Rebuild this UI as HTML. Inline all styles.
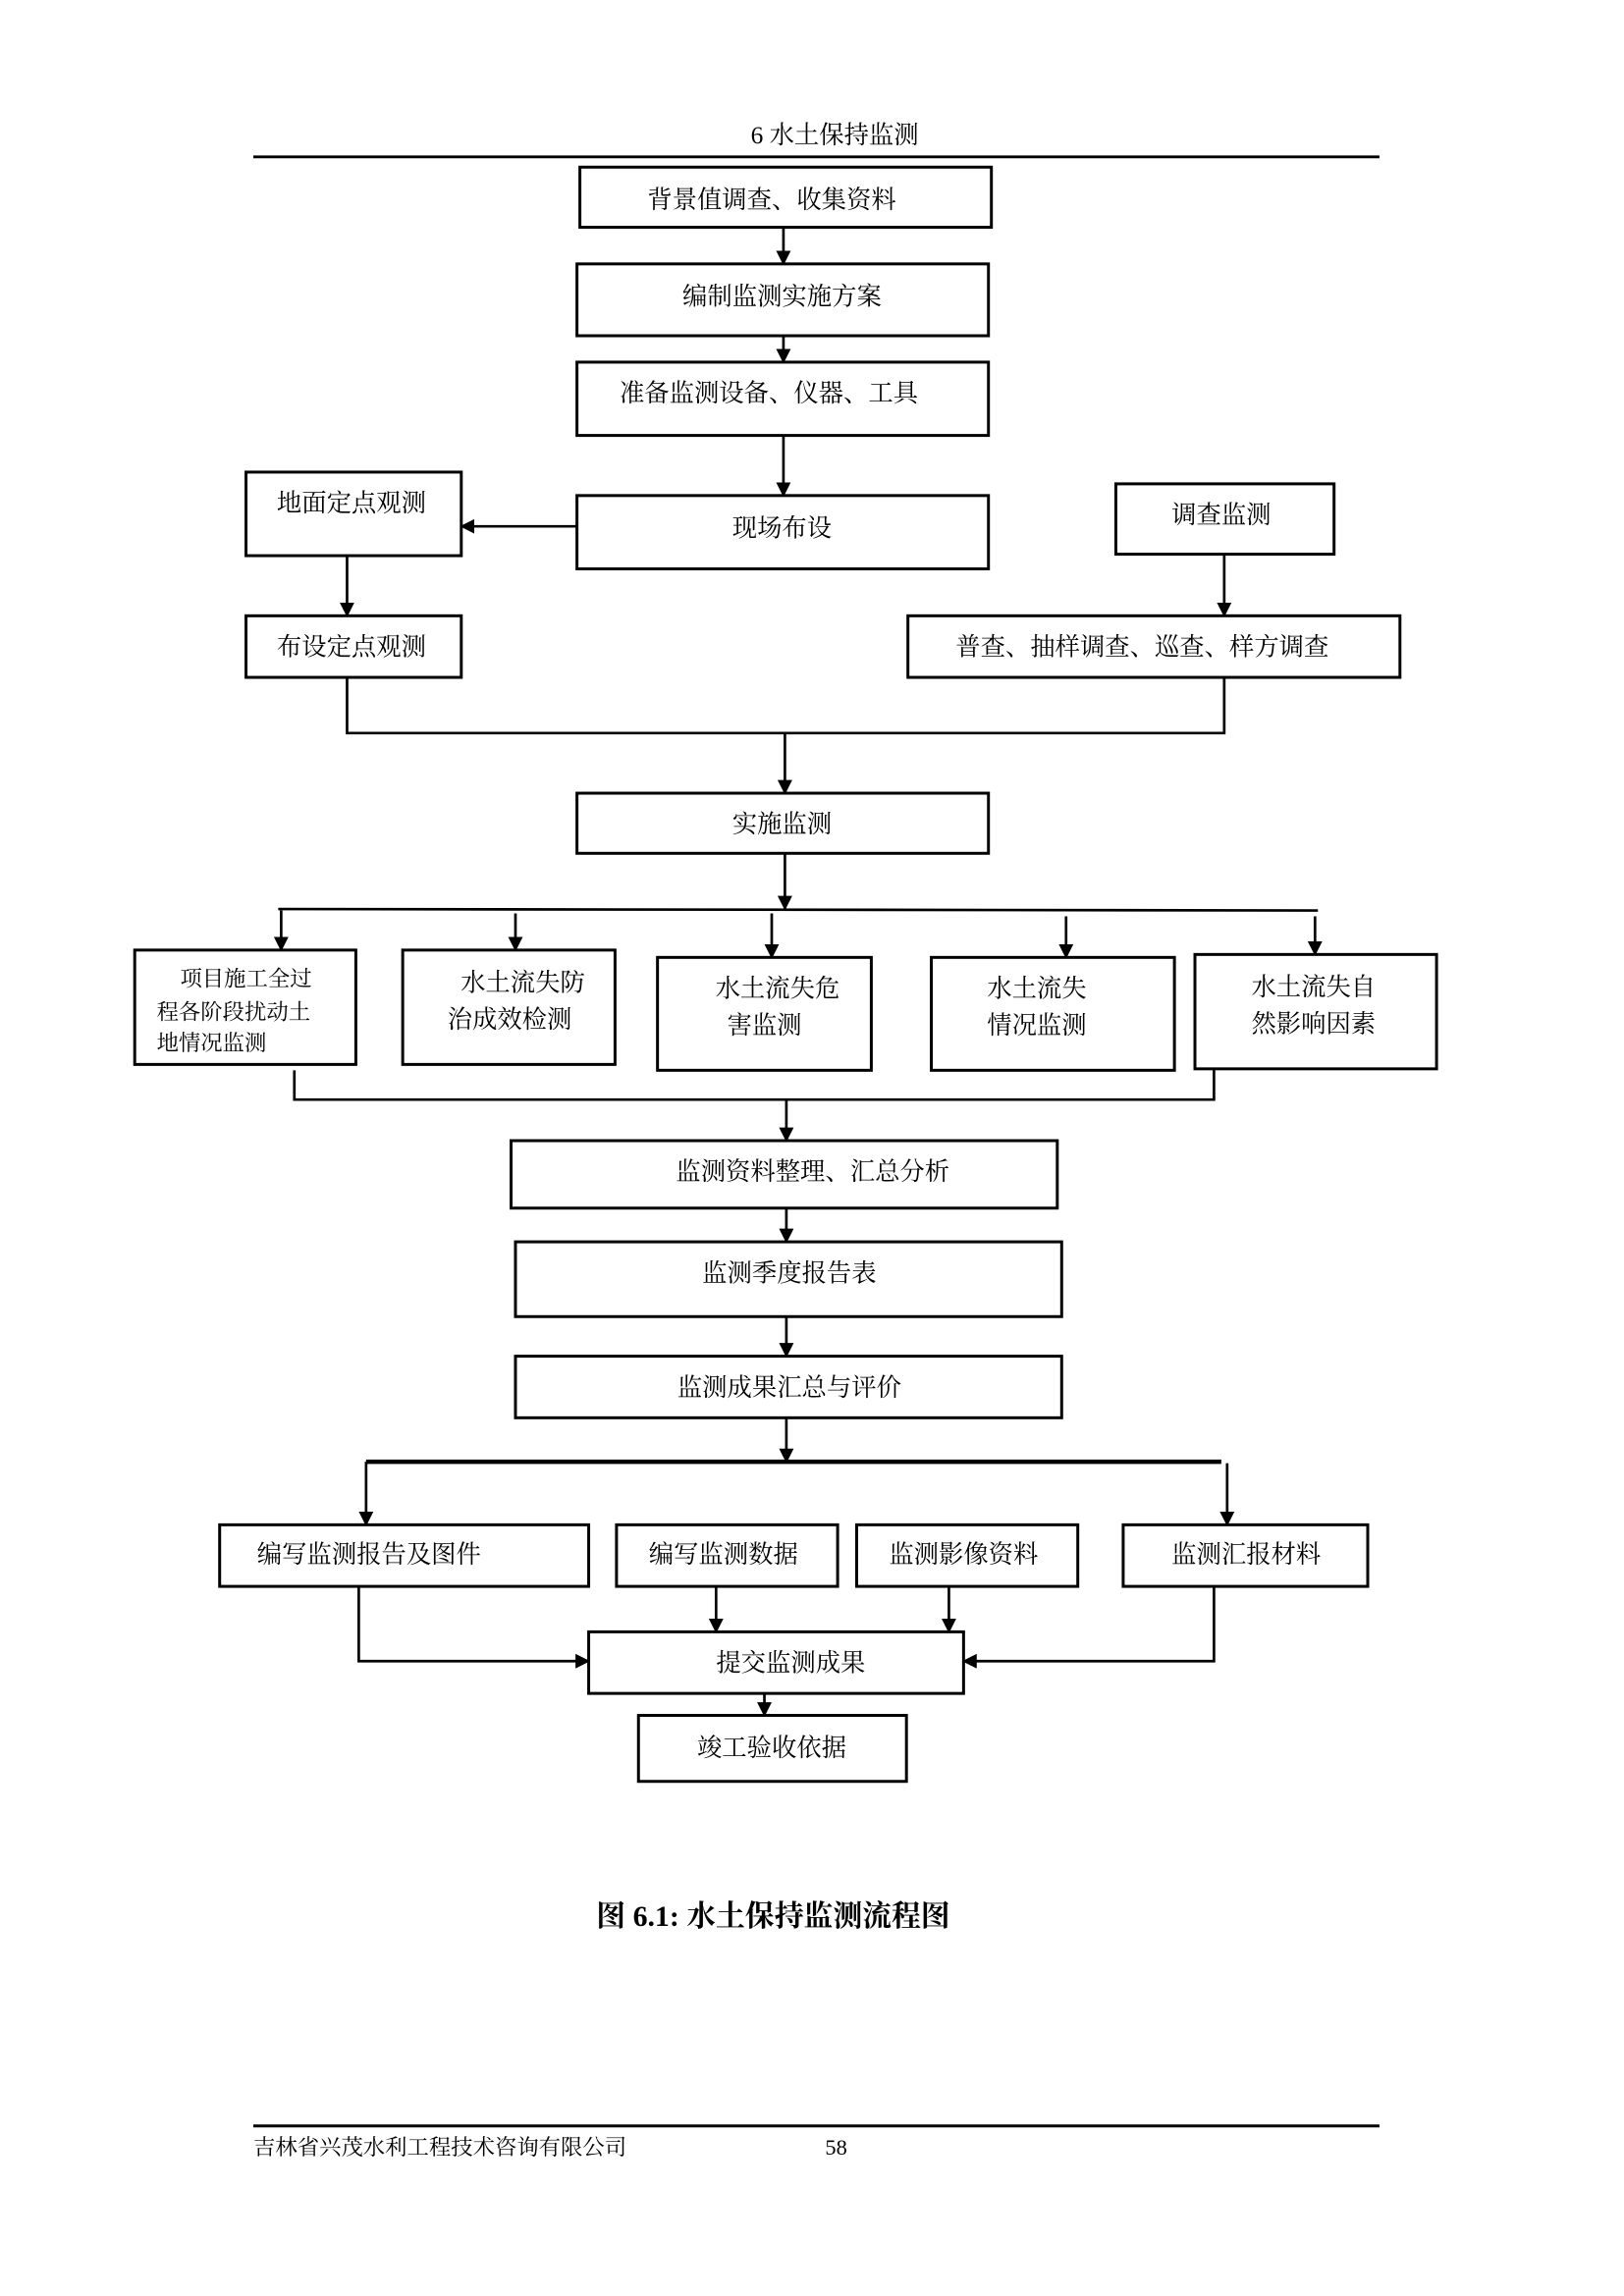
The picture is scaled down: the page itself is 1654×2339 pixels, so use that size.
<!DOCTYPE html>
<html><head><meta charset="utf-8"><style>
html,body{margin:0;padding:0;background:#fff}
svg{display:block}
text{font-family:"Liberation Serif","Noto Serif CJK SC","Noto Sans CJK SC",serif;fill:#000}
</style></head><body>
<svg width="1654" height="2339" viewBox="0 0 1109 1566" preserveAspectRatio="none" xmlns="http://www.w3.org/2000/svg">
<defs><marker id="a" markerWidth="10" markerHeight="10" refX="9" refY="5" orient="auto" markerUnits="userSpaceOnUse"><path d="M0,0 L10,5 L0,10 z" fill="#000"/></marker></defs>
<text x="570" y="94" text-anchor="middle" dominant-baseline="middle" font-size="17">6  水土保持监测</text>
<line x1="173" y1="107" x2="942" y2="107" stroke="#000" stroke-width="2"/>
<g fill="none" stroke="#000" stroke-width="2">
<rect x="396" y="114" width="281" height="41"/>
<rect x="394" y="180" width="281" height="49"/>
<rect x="394" y="247" width="281" height="50"/>
<rect x="394" y="338" width="281" height="50"/>
<rect x="168" y="322" width="147" height="57"/>
<rect x="762" y="330" width="149" height="48"/>
<rect x="168" y="420" width="147" height="42"/>
<rect x="620" y="420" width="336" height="42"/>
<rect x="394" y="541" width="281" height="41"/>
<rect x="92" y="648" width="151" height="78"/>
<rect x="275" y="648" width="145" height="78"/>
<rect x="449" y="653" width="146" height="77"/>
<rect x="636" y="653" width="166" height="77"/>
<rect x="816" y="651" width="165" height="78"/>
<rect x="349" y="778" width="373" height="46"/>
<rect x="352" y="847" width="373" height="51"/>
<rect x="352" y="925" width="373" height="42"/>
<rect x="150" y="1040" width="252" height="42"/>
<rect x="421" y="1040" width="151" height="42"/>
<rect x="585" y="1040" width="151" height="42"/>
<rect x="767" y="1040" width="167" height="42"/>
<rect x="402" y="1113" width="256" height="42"/>
<rect x="436" y="1170" width="183" height="45"/>
</g>
<g stroke="#000" stroke-width="1.8" fill="none">
<line x1="535" y1="155" x2="535" y2="180" marker-end="url(#a)"/>
<line x1="535" y1="229" x2="535" y2="247" marker-end="url(#a)"/>
<line x1="535" y1="297" x2="535" y2="338" marker-end="url(#a)"/>
<line x1="394" y1="359" x2="315" y2="359" marker-end="url(#a)"/>
<line x1="237" y1="379" x2="237" y2="420" marker-end="url(#a)"/>
<line x1="836" y1="378" x2="836" y2="420" marker-end="url(#a)"/>
<polyline points="237,462 237,500 836,500 836,462"/>
<line x1="536" y1="500" x2="536" y2="541" marker-end="url(#a)"/>
<line x1="536" y1="582" x2="536" y2="620" marker-end="url(#a)"/>
<line x1="190" y1="620" x2="900" y2="621"/>
<line x1="192" y1="621" x2="192" y2="648" marker-end="url(#a)"/>
<line x1="352" y1="623" x2="352" y2="648" marker-end="url(#a)"/>
<line x1="527" y1="623" x2="527" y2="653" marker-end="url(#a)"/>
<line x1="728" y1="625" x2="728" y2="653" marker-end="url(#a)"/>
<line x1="898" y1="625" x2="898" y2="651" marker-end="url(#a)"/>
<polyline points="201,730 201,750 829,750 829,729"/>
<line x1="537" y1="750" x2="537" y2="778" marker-end="url(#a)"/>
<line x1="537" y1="824" x2="537" y2="847" marker-end="url(#a)"/>
<line x1="537" y1="898" x2="537" y2="925" marker-end="url(#a)"/>
<line x1="537" y1="967" x2="537" y2="997" marker-end="url(#a)"/>
<line x1="250" y1="997" x2="834" y2="997" stroke-width="3"/>
<line x1="250" y1="997" x2="250" y2="1040" marker-end="url(#a)"/>
<line x1="838" y1="998" x2="838" y2="1040" marker-end="url(#a)"/>
<polyline points="245,1082 245,1133 402,1133" marker-end="url(#a)"/>
<polyline points="829,1082 829,1133 658,1133" marker-end="url(#a)"/>
<line x1="489" y1="1082" x2="489" y2="1113" marker-end="url(#a)"/>
<line x1="648" y1="1082" x2="648" y2="1113" marker-end="url(#a)"/>
<line x1="522" y1="1155" x2="522" y2="1170" marker-end="url(#a)"/>
</g>
<g font-size="17" text-anchor="middle" dominant-baseline="middle" transform="translate(0,3)">
<text x="527" y="135">背景值调查、收集资料</text>
<text x="534" y="201">编制监测实施方案</text>
<text x="525" y="267">准备监测设备、仪器、工具</text>
<text x="534" y="359">现场布设</text>
<text x="240" y="342">地面定点观测</text>
<text x="834" y="350">调查监测</text>
<text x="240" y="440">布设定点观测</text>
<text x="780" y="440">普查、抽样调查、巡查、样方调查</text>
<text x="534" y="561">实施监测</text>
<text x="357" y="669">水土流失防</text>
<text x="348" y="694">治成效检测</text>
<text x="531" y="673">水土流失危</text>
<text x="522" y="698">害监测</text>
<text x="708" y="673">水土流失</text>
<text x="708" y="698">情况监测</text>
<text x="897" y="672">水土流失自</text>
<text x="897" y="697">然影响因素</text>
<text x="555" y="798">监测资料整理、汇总分析</text>
<text x="539" y="867">监测季度报告表</text>
<text x="539" y="945">监测成果汇总与评价</text>
<text x="252" y="1059">编写监测报告及图件</text>
<text x="494" y="1059">编写监测数据</text>
<text x="658" y="1059">监测影像资料</text>
<text x="851" y="1059">监测汇报材料</text>
<text x="540" y="1133">提交监测成果</text>
<text x="527" y="1191">竣工验收依据</text>
</g>
<g font-size="15" dominant-baseline="middle" transform="translate(0,2)">
<text x="123" y="667">项目施工全过</text>
<text x="107" y="690">程各阶段扰动土</text>
<text x="107" y="711">地情况监测</text>
</g>
<text x="528" y="1309" text-anchor="middle" dominant-baseline="middle" font-size="20" font-weight="bold">图 6.1:  水土保持监测流程图</text>
<line x1="173" y1="1450" x2="942" y2="1450" stroke="#000" stroke-width="2"/>
<text x="173" y="1466" font-size="15" dominant-baseline="middle">吉林省兴茂水利工程技术咨询有限公司</text>
<text x="571" y="1466" font-size="15" text-anchor="middle" dominant-baseline="middle">58</text>
</svg>
</body></html>
